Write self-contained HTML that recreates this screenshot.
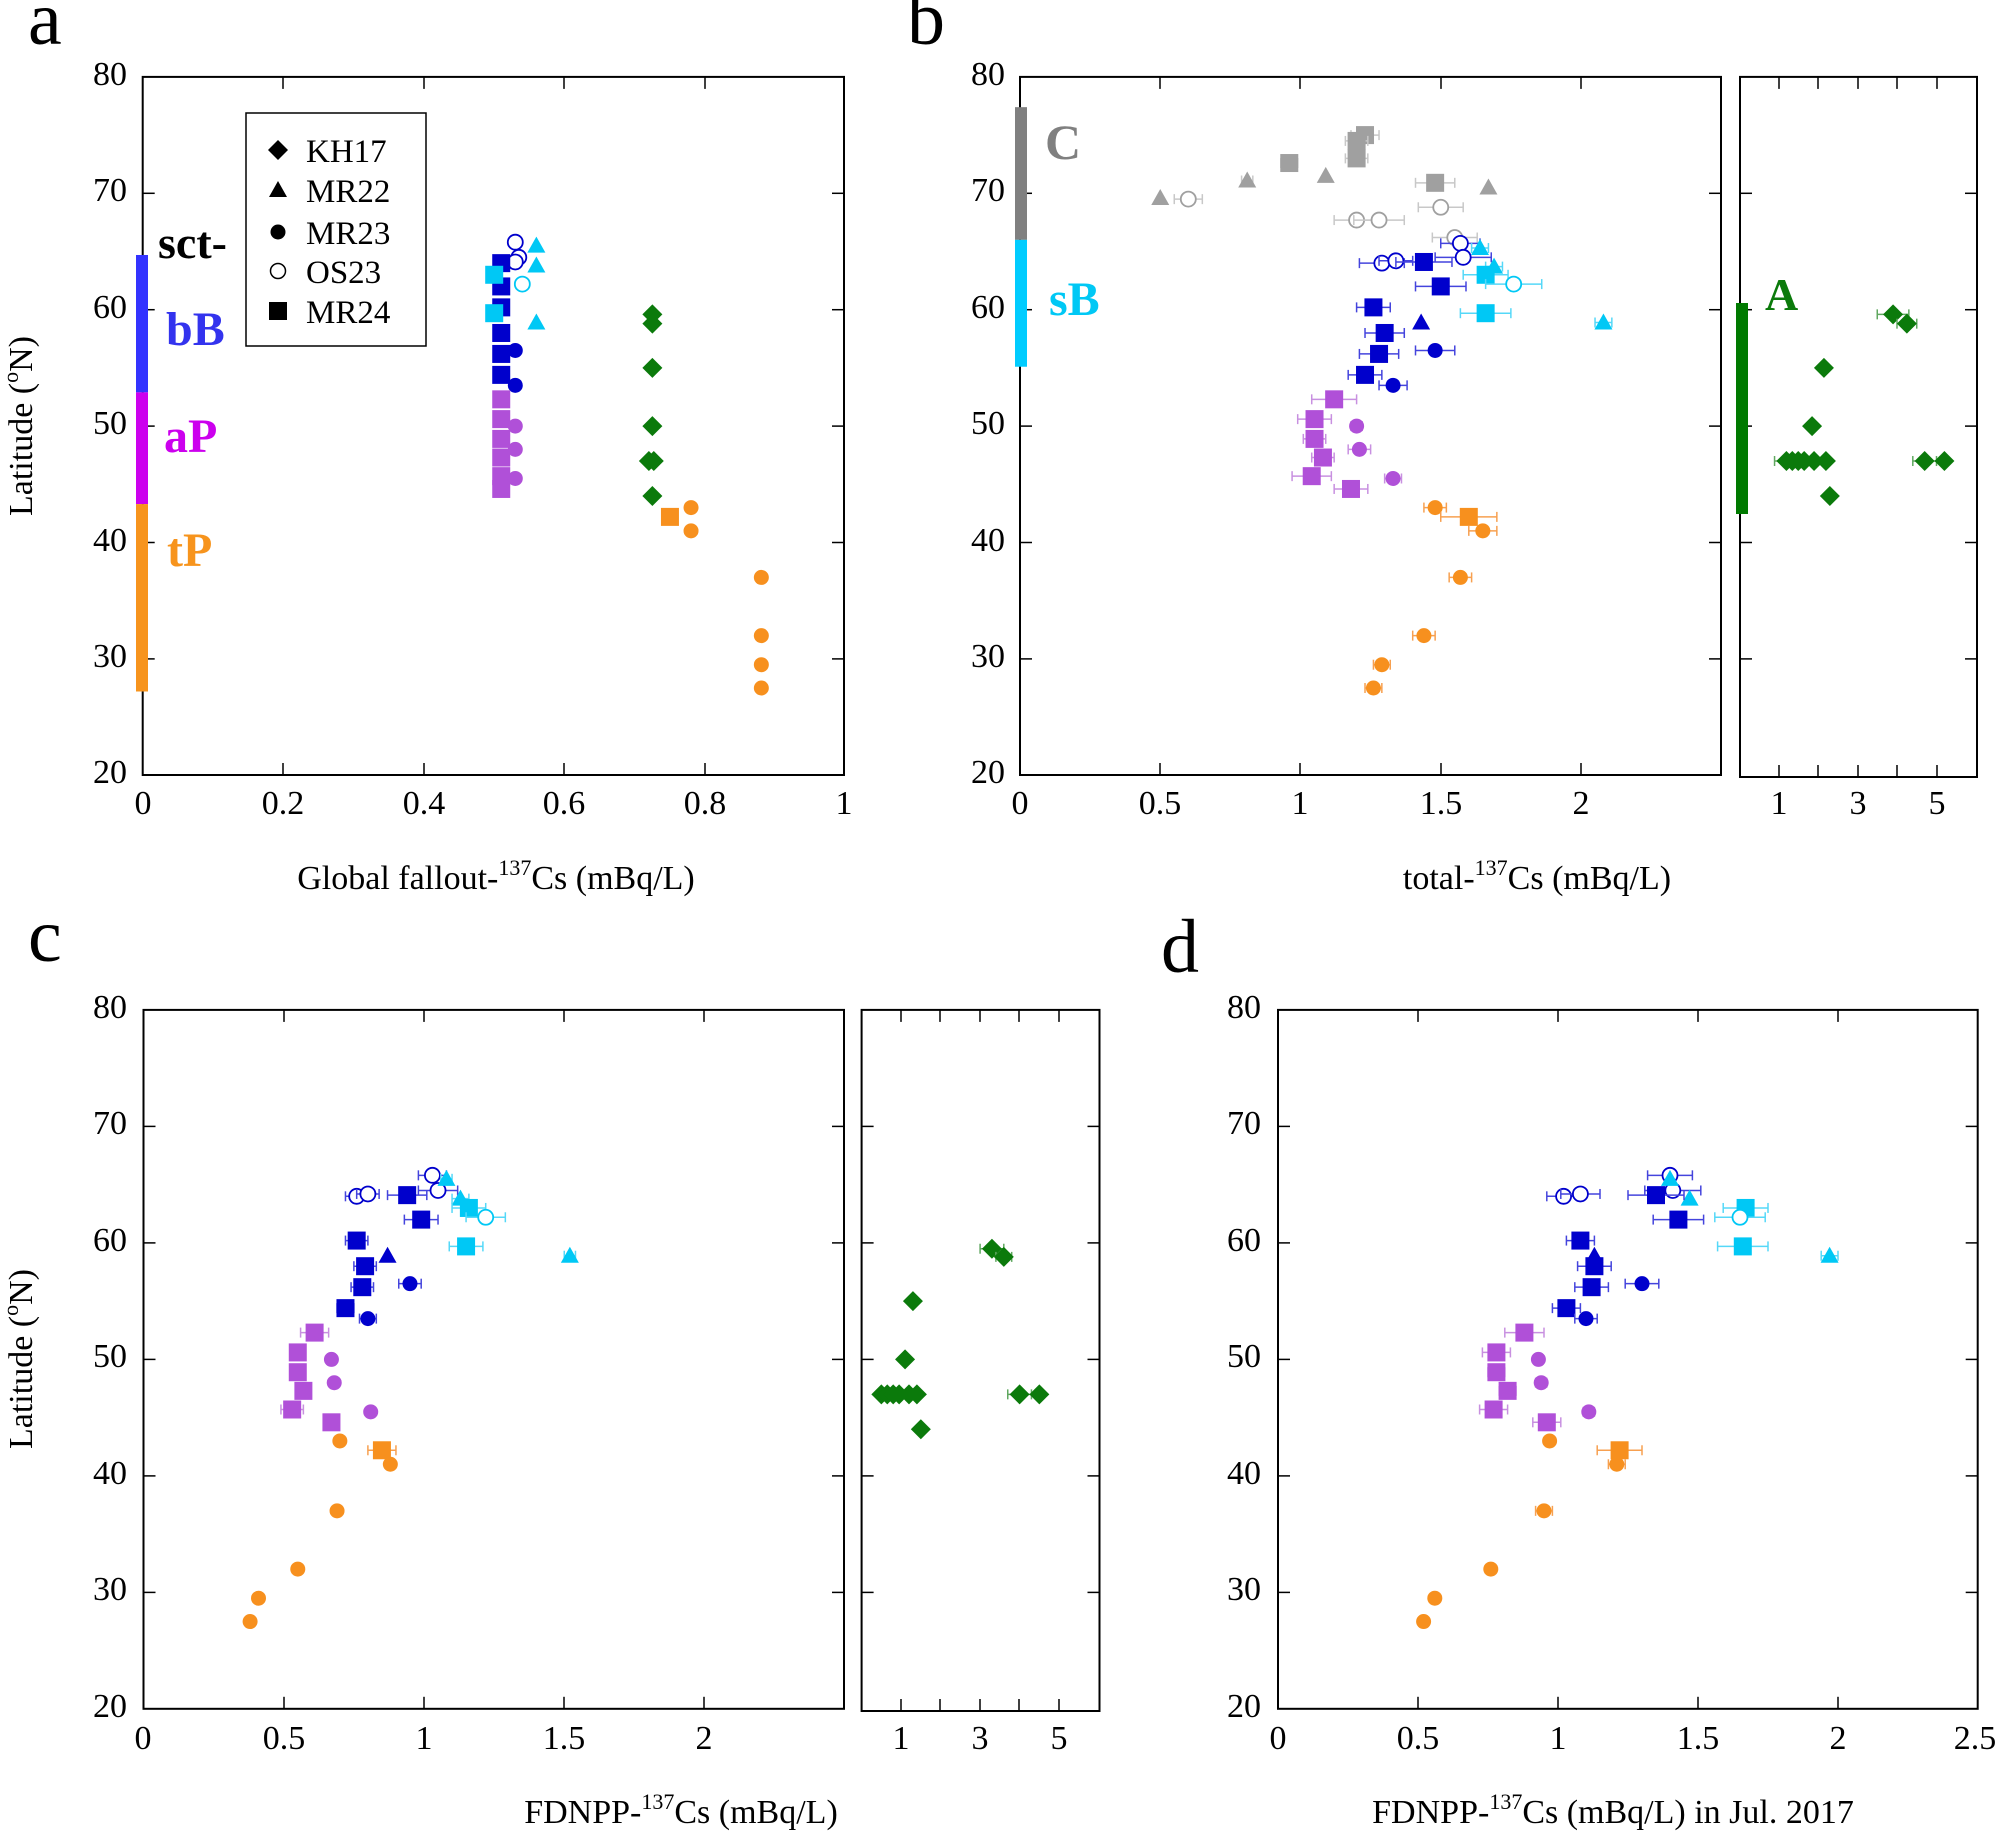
<!DOCTYPE html>
<html><head><meta charset="utf-8"><style>
html,body{margin:0;padding:0;background:#fff}
svg{display:block}
svg text{font-family:"Liberation Serif","Times New Roman",serif;fill:#000}
.t{font-size:34px}
.lab{font-size:34px}
.pl{font-size:76px}
.b{font-weight:bold}
</style></head><body>
<svg id="s" width="2001" height="1836" viewBox="0 0 2001 1836" xmlns="http://www.w3.org/2000/svg" font-family="Liberation Serif, serif" style="font-family:'Liberation Serif',serif">
<g id="g"></g>
<!-- panel letters -->
<text class="pl" x="28" y="44">a</text>
<text class="pl" x="907" y="44">b</text>
<text class="pl" x="28" y="961">c</text>
<text class="pl" x="1161" y="972">d</text>

<!-- panel a tick labels -->
<g class="t" text-anchor="end">
<text x="127" y="85">80</text><text x="127" y="201">70</text><text x="127" y="318">60</text>
<text x="127" y="434">50</text><text x="127" y="551">40</text><text x="127" y="667">30</text><text x="127" y="783">20</text>
</g>
<g class="t" text-anchor="middle">
<text x="143" y="814">0</text><text x="283" y="814">0.2</text><text x="424" y="814">0.4</text>
<text x="564" y="814">0.6</text><text x="705" y="814">0.8</text><text x="844" y="814">1</text>
</g>
<text class="lab" x="496" y="889" text-anchor="middle">Global fallout-<tspan font-size="22" dy="-14">137</tspan><tspan dy="14">Cs (mBq/L)</tspan></text>
<text class="lab" transform="translate(32,426) rotate(-90)" text-anchor="middle">Latitude (<tspan font-size="22" dy="-14">o</tspan><tspan dy="14">N)</tspan></text>

<!-- legend -->
<rect x="246" y="113" width="180" height="233" fill="#fff" stroke="#000" stroke-width="1.5"/>
<g class="t" style="font-size:33px">
<text x="306" y="162">KH17</text><text x="306" y="202">MR22</text><text x="306" y="244">MR23</text>
<text x="306" y="283">OS23</text><text x="306" y="323">MR24</text>
</g>
<g id="g2"></g>
<!-- region labels a -->
<text class="b" x="158" y="258" style="font-size:46px">sct-</text>
<text class="b" x="166" y="345" style="font-size:48px;fill:#3333ee">bB</text>
<text class="b" x="164" y="452" style="font-size:48px;fill:#cc00ee">aP</text>
<text class="b" x="167" y="566" style="font-size:48px;fill:#f7941d">tP</text>

<!-- panel b labels -->
<g class="t" text-anchor="end">
<text x="1005" y="85">80</text><text x="1005" y="201">70</text><text x="1005" y="318">60</text>
<text x="1005" y="434">50</text><text x="1005" y="551">40</text><text x="1005" y="667">30</text><text x="1005" y="783">20</text>
</g>
<g class="t" text-anchor="middle">
<text x="1020" y="814">0</text><text x="1160" y="814">0.5</text><text x="1300" y="814">1</text>
<text x="1441" y="814">1.5</text><text x="1581" y="814">2</text>
<text x="1779" y="814">1</text><text x="1858" y="814">3</text><text x="1937" y="814">5</text>
</g>
<text class="lab" x="1537" y="889" text-anchor="middle">total-<tspan font-size="22" dy="-14">137</tspan><tspan dy="14">Cs (mBq/L)</tspan></text>
<text class="b" x="1045" y="159" style="font-size:50px;fill:#808080">C</text>
<text class="b" x="1049" y="315" style="font-size:48px;fill:#00c8f5">sB</text>
<text class="b" x="1765" y="310" style="font-size:46px;fill:#0b7a0b">A</text>

<!-- panel c labels -->
<g class="t" text-anchor="end">
<text x="127" y="1018">80</text><text x="127" y="1134">70</text><text x="127" y="1251">60</text>
<text x="127" y="1367">50</text><text x="127" y="1484">40</text><text x="127" y="1600">30</text><text x="127" y="1717">20</text>
</g>
<g class="t" text-anchor="middle">
<text x="143" y="1749">0</text><text x="284" y="1749">0.5</text><text x="424" y="1749">1</text>
<text x="564" y="1749">1.5</text><text x="704" y="1749">2</text>
<text x="901" y="1749">1</text><text x="980" y="1749">3</text><text x="1059" y="1749">5</text>
</g>
<text class="lab" x="681" y="1823" text-anchor="middle">FDNPP-<tspan font-size="22" dy="-14">137</tspan><tspan dy="14">Cs (mBq/L)</tspan></text>
<text class="lab" transform="translate(32,1359) rotate(-90)" text-anchor="middle">Latitude (<tspan font-size="22" dy="-14">o</tspan><tspan dy="14">N)</tspan></text>

<!-- panel d labels -->
<g class="t" text-anchor="end">
<text x="1261" y="1018">80</text><text x="1261" y="1134">70</text><text x="1261" y="1251">60</text>
<text x="1261" y="1367">50</text><text x="1261" y="1484">40</text><text x="1261" y="1600">30</text><text x="1261" y="1717">20</text>
</g>
<g class="t" text-anchor="middle">
<text x="1278" y="1749">0</text><text x="1418" y="1749">0.5</text><text x="1558" y="1749">1</text>
<text x="1698" y="1749">1.5</text><text x="1838" y="1749">2</text><text x="1975" y="1749">2.5</text>
</g>
<text class="lab" x="1613" y="1823" text-anchor="middle">FDNPP-<tspan font-size="22" dy="-14">137</tspan><tspan dy="14">Cs (mBq/L) in Jul. 2017</tspan></text>
</svg>
<script>
var NS="http://www.w3.org/2000/svg",G=document.getElementById("g");
function el(t,a){var e=document.createElementNS(NS,t);for(var k in a)e.setAttribute(k,a[k]);G.appendChild(e);return e;}
var C={B:"#0000cc",Y:"#00c8f5",P:"#b050d8",O:"#f7901e",G:"#0b7a0b",R:"#a0a0a0",K:"#000"};
var EC={B:"#4444dd",Y:"#55d8f8",P:"#c890e0",O:"#f7a050",G:"#60a860",R:"#c8c8c8"};
function mk(type,x,y,c){
 var col=C[c];
 if(type=="s")el("rect",{x:x-9,y:y-9,width:18,height:18,fill:col});
 else if(type=="c")el("circle",{cx:x,cy:y,r:7.5,fill:col});
 else if(type=="o")el("circle",{cx:x,cy:y,r:7.5,fill:"#fff",stroke:col,"stroke-width":1.8});
 else if(type=="t")el("polygon",{points:(x-9)+","+(y+7)+" "+(x+9)+","+(y+7)+" "+x+","+(y-9),fill:col});
 else if(type=="d")el("polygon",{points:x+","+(y-10)+" "+(x+10)+","+y+" "+x+","+(y+10)+" "+(x-10)+","+y,fill:col});
}
function eb(x1,x2,y,c){var col=EC[c];el("line",{x1:x1,x2:x2,y1:y,y2:y,stroke:col,"stroke-width":1.5});
 el("line",{x1:x1,x2:x1,y1:y-5,y2:y+5,stroke:col,"stroke-width":1.5});el("line",{x1:x2,x2:x2,y1:y-5,y2:y+5,stroke:col,"stroke-width":1.5});}
function box(x1,y1,x2,y2,xt,yt,ylat0,sc){
 el("rect",{x:x1,y:y1,width:x2-x1,height:y2-y1,fill:"none",stroke:"#000","stroke-width":2});
 xt.forEach(function(x){el("line",{x1:x,x2:x,y1:y1,y2:y1+12,stroke:"#000","stroke-width":1.5});el("line",{x1:x,x2:x,y1:y2,y2:y2-12,stroke:"#000","stroke-width":1.5});});
 [30,40,50,60,70].forEach(function(l){var y=y1+(80-l)*sc;
  el("line",{x1:x1,x2:x1+12,y1:y,y2:y,stroke:"#000","stroke-width":1.5});
  el("line",{x1:x2,x2:x2-12,y1:y,y2:y,stroke:"#000","stroke-width":1.5});});
}
function bar(x,w,l1,l2,col,y0,sc){el("rect",{x:x,y:y0+(80-l1)*sc,width:w,height:(l1-l2)*sc,fill:col});}
function plot(X,Y,data){data.forEach(function(d){var x=X(d[1]),y=Y(d[2]);
 if(d[4])eb(X(d[1]-d[4]),X(d[1]+d[4]),y,d[3]);mk(d[0],x,y,d[3]);});}
var SA=11.64,SC=11.65,TA=76.9,TC=1009.9;
// Panel a
box(142.7,TA,844,775,[283,424,564,705],[],0,SA);
bar(136,12,64.7,52.9,"#3333ff",TA,SA);bar(136,12,52.9,43.3,"#cc00ee",TA,SA);bar(136,12,43.3,27.2,"#f7941d",TA,SA);
var XA=function(v){return 142.7+703*v},YA=function(l){return TA+(80-l)*SA};
plot(XA,YA,[
["o",0.53,65.8,"B"],["o",0.535,64.5,"B"],["o",0.53,64.1,"B"],["o",0.54,62.2,"Y"],
["t",0.56,65.5,"Y"],["t",0.56,63.8,"Y"],["t",0.56,58.9,"Y"],
["s",0.51,64,"B"],["s",0.51,62,"B"],["s",0.51,60.2,"B"],["s",0.51,58,"B"],["s",0.51,56.2,"B"],["s",0.51,54.4,"B"],
["s",0.50,63,"Y"],["s",0.50,59.7,"Y"],
["c",0.53,56.5,"B"],["c",0.53,53.5,"B"],
["s",0.51,52.3,"P"],["s",0.51,50.6,"P"],["s",0.51,48.9,"P"],["s",0.51,47.3,"P"],["s",0.51,45.7,"P"],["s",0.51,44.6,"P"],
["c",0.53,50,"P"],["c",0.53,48,"P"],["c",0.53,45.5,"P"],
["d",0.725,59.6,"G"],["d",0.725,58.8,"G"],["d",0.725,55,"G"],["d",0.725,50,"G"],["d",0.72,47,"G"],["d",0.727,47,"G"],["d",0.725,44,"G"],
["s",0.75,42.2,"O"],["c",0.78,43,"O"],["c",0.78,41,"O"],["c",0.88,37,"O"],["c",0.88,32,"O"],["c",0.88,29.5,"O"],["c",0.88,27.5,"O"]]);
// Panel b
box(1020,TA,1721,775,[1160,1300,1441,1581],[],0,SA);
box(1740,TA,1977,777,[1779,1818,1858,1897,1937],[],0,SA);
bar(1015,12,77.4,66,"#808080",TA,SA);bar(1015,12,66,55.1,"#00ccff",TA,SA);
el("rect",{x:1736,y:303,width:12,height:211,fill:"#007a00"});
var XB=function(v){return 1020+280.5*v};
plot(XB,YA,[
["s",1.23,75,"R",0.05],["s",1.20,74.5,"R",0.04],["s",1.20,73,"R",0.04],["s",0.96,72.6,"R",0.03],["s",1.48,70.9,"R",0.07],
["t",0.5,69.6,"R"],["t",0.81,71.1,"R",0.02],["t",1.09,71.5,"R"],["t",1.67,70.5,"R"],
["o",0.6,69.5,"R",0.05],["o",1.5,68.8,"R",0.08],["o",1.2,67.7,"R",0.08],["o",1.28,67.7,"R",0.09],["o",1.55,66.2,"R",0.08],
["o",1.57,65.7,"B",0.07],["o",1.29,64,"B",0.08],["o",1.34,64.2,"B",0.06],["o",1.58,64.5,"B",0.1],
["t",1.64,65.3,"Y",0.03],["t",1.69,63.7,"Y",0.03],
["s",1.44,64.1,"B",0.1],["s",1.50,62,"B",0.09],["s",1.26,60.2,"B",0.06],["s",1.30,58,"B",0.07],["s",1.28,56.2,"B",0.07],["s",1.23,54.4,"B",0.06],
["s",1.66,63,"Y",0.08],["s",1.66,59.7,"Y",0.09],["o",1.76,62.2,"Y",0.1],
["t",1.43,58.9,"B"],["t",2.08,58.9,"Y",0.03],
["c",1.48,56.5,"B",0.07],["c",1.33,53.5,"B",0.05],
["s",1.12,52.3,"P",0.08],["s",1.05,50.6,"P",0.06],["s",1.05,48.9,"P",0.04],["s",1.08,47.3,"P",0.04],["s",1.04,45.7,"P",0.07],["s",1.18,44.6,"P",0.06],
["c",1.20,50,"P",0.02],["c",1.21,48,"P",0.04],["c",1.33,45.5,"P",0.03],
["c",1.48,43,"O",0.04],["s",1.60,42.2,"O",0.1],["c",1.65,41,"O",0.05],["c",1.57,37,"O",0.04],["c",1.44,32,"O",0.04],["c",1.29,29.5,"O",0.03],["c",1.26,27.5,"O",0.03]]);
var XBR=function(v){return 1739+39.5*v};
plot(XBR,YA,[["d",3.9,59.6,"G",0.4],["d",4.25,58.8,"G",0.25],["d",2.15,55,"G"],["d",1.85,50,"G"],
["d",1.2,47,"G",0.3],["d",1.35,47,"G"],["d",1.5,47,"G"],["d",1.65,47,"G"],["d",1.9,47,"G"],["d",2.2,47,"G"],["d",4.7,47,"G",0.3],["d",5.2,47,"G"],["d",2.3,44,"G"]]);
// Panel c
box(143.5,TC,844,1708.8,[284,424,564,704],[],0,SC);
box(861.6,TC,1099.5,1711,[901,940,980,1019,1059],[],0,SC);
var XC=function(v){return 143.5+280.5*v},YC=function(l){return TC+(80-l)*SC};
plot(XC,YC,[
["o",1.03,65.8,"B",0.05],["o",0.76,64,"B",0.04],["o",0.80,64.2,"B",0.04],["o",1.05,64.5,"B",0.07],
["t",1.08,65.5,"Y",0.02],["t",1.13,63.8,"Y",0.03],["t",1.52,58.9,"Y",0.02],
["s",0.94,64.1,"B",0.07],["s",0.99,62,"B",0.06],["s",0.76,60.2,"B",0.04],["s",0.79,58,"B",0.04],["s",0.78,56.2,"B",0.04],["s",0.72,54.4,"B",0.03],
["s",1.16,63,"Y",0.06],["s",1.15,59.7,"Y",0.06],["o",1.22,62.2,"Y",0.07],
["t",0.87,58.9,"B"],["c",0.95,56.5,"B",0.04],["c",0.80,53.5,"B",0.03],
["s",0.61,52.3,"P",0.05],["s",0.55,50.6,"P",0.02],["s",0.55,48.9,"P",0.02],["s",0.57,47.3,"P",0.02],["s",0.53,45.7,"P",0.04],["s",0.67,44.6,"P",0.02],
["c",0.67,50,"P"],["c",0.68,48,"P"],["c",0.81,45.5,"P"],
["c",0.70,43,"O"],["s",0.85,42.2,"O",0.05],["c",0.88,41,"O"],["c",0.69,37,"O"],["c",0.55,32,"O"],["c",0.41,29.5,"O"],["c",0.38,27.5,"O"]]);
var XCR=function(v){return 861.6+39.5*v};
plot(XCR,YC,[["d",3.3,59.5,"G",0.3],["d",3.6,58.8,"G",0.2],["d",1.3,55,"G"],["d",1.1,50,"G"],
["d",0.5,47,"G"],["d",0.65,47,"G"],["d",0.8,47,"G"],["d",0.95,47,"G"],["d",1.2,47,"G"],["d",1.4,47,"G"],["d",4.0,47,"G",0.3],["d",4.5,47,"G"],["d",1.5,44,"G"]]);
// Panel d
box(1278,TC,1977.7,1708.8,[1418,1558,1698,1838],[],0,SC);
var XD=function(v){return 1278+280*v};
plot(XD,YC,[
["o",1.40,65.8,"B",0.08],["o",1.02,64,"B",0.06],["o",1.08,64.2,"B",0.07],["o",1.41,64.5,"B",0.1],
["t",1.40,65.5,"Y"],["t",1.47,63.8,"Y"],["t",1.97,58.9,"Y",0.03],
["s",1.35,64.1,"B",0.1],["s",1.43,62,"B",0.09],["s",1.08,60.2,"B",0.05],["s",1.13,58,"B",0.06],["s",1.12,56.2,"B",0.06],["s",1.03,54.4,"B",0.05],
["t",1.13,58.9,"B"],["s",1.67,63,"Y",0.08],["s",1.66,59.7,"Y",0.09],["o",1.65,62.2,"Y",0.09],
["c",1.30,56.5,"B",0.06],["c",1.10,53.5,"B",0.04],
["s",0.88,52.3,"P",0.07],["s",0.78,50.6,"P",0.05],["s",0.78,48.9,"P",0.03],["s",0.82,47.3,"P",0.03],["s",0.77,45.7,"P",0.05],["s",0.96,44.6,"P",0.05],
["c",0.93,50,"P"],["c",0.94,48,"P",0.02],["c",1.11,45.5,"P",0.02],
["c",0.97,43,"O"],["s",1.22,42.2,"O",0.08],["c",1.21,41,"O",0.03],["c",0.95,37,"O",0.03],["c",0.76,32,"O"],["c",0.56,29.5,"O"],["c",0.52,27.5,"O"]]);
// legend markers on top of legend box
G=document.getElementById("g2");
mk("d",278,150,"K");mk("t",278,190,"K");mk("c",278,232,"K");
el("circle",{cx:278,cy:271,r:7.5,fill:"#fff",stroke:"#000","stroke-width":1.5});mk("s",278,311,"K");
</script>
</body></html>
